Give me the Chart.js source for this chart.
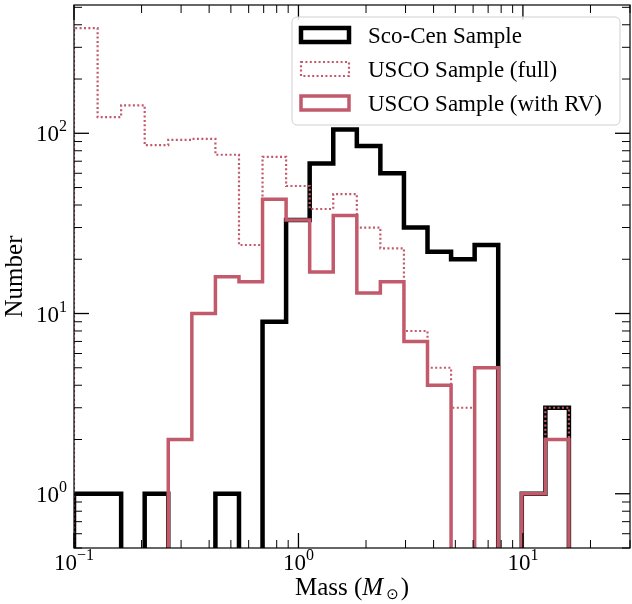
<!DOCTYPE html>
<html>
<head>
<meta charset="utf-8">
<script src="https://cdn.jsdelivr.net/npm/chart.js@4.4.1/dist/chart.umd.min.js"></script>
<style>
	html, body { margin: 0; padding: 0; background: #fff; }
</style>
</head>
<body>
<canvas id="massChart" width="632" height="604"></canvas>
<script>
// histogram bin edges (solar masses, log spaced) and counts per bin
const binEdges = [0.1, 0.1274, 0.1622, 0.2065, 0.2630, 0.3350, 0.4266, 0.5433, 0.6918, 0.8810,
	1.122, 1.429, 1.820, 2.317, 2.951, 3.758, 4.786, 6.095, 7.762, 9.886, 12.59, 16.03];
const scoCenCounts = [1, 1, 0, 1, 0, 0, 1, 0, 9, 33, 68, 105, 85, 60, 30, 22, 20, 24, 0, 1, 3];
const uscoFullCounts = [383, 123, 143, 86, 92, 93, 76, 24, 74, 51, 38, 46, 30, 23, 8, 5, 3, 5, 0, 1, 3];
const uscoRvCounts = [0, 0, 0, 0, 2, 10, 16, 15, 43, 33, 17, 35, 13, 15, 7, 4, 0, 5, 0, 1, 2];
const seriesLabels = ['Sco-Cen Sample', 'USCO Sample (full)', 'USCO Sample (with RV)'];
const xTickExps = [-1, 0, 1];
const yTickExps = [0, 1, 2];

const PINK = '#c25a6b';
const SERIF = '"Liberation Serif", "DejaVu Serif", serif';
const X_MIN = 0.1, X_MAX = 30, Y_MIN = 0.5, Y_MAX = 515;
// empty bins sit below the axis, like matplotlib's step outline
const FLOOR = 0.01;

// turn edges + counts into a step outline (histtype='step')
function stepOutline(edges, counts) {
	const pts = [{ x: edges[0], y: FLOOR }];
	counts.forEach((c, i) => {
		const v = c > 0 ? c : FLOOR;
		pts.push({ x: edges[i], y: v });
		pts.push({ x: edges[i + 1], y: v });
	});
	pts.push({ x: edges[edges.length - 1], y: FLOOR });
	return pts;
}

// "10" with a raised exponent
function drawPower(ctx, exp, x, y, align) {
	const base = '10';
	const sup = exp < 0 ? '\u2212' + Math.abs(exp) : String(exp);
	ctx.font = '23px ' + SERIF;
	const wb = ctx.measureText(base).width;
	ctx.font = '16px ' + SERIF;
	const ws = ctx.measureText(sup).width;
	let x0 = align === 'center' ? x - (wb + ws) / 2 : x - (wb + ws);
	ctx.textAlign = 'left';
	ctx.textBaseline = 'alphabetic';
	ctx.font = '23px ' + SERIF;
	ctx.fillText(base, x0, y);
	ctx.font = '16px ' + SERIF;
	ctx.fillText(sup, x0 + wb, y - 10);
}

const axesPlugin = {
	id: 'mplAxes',
	afterDraw(chart) {
		const ctx = chart.ctx;
		const area = chart.chartArea;
		const xs = chart.scales.x, ys = chart.scales.y;
		ctx.save();
		ctx.fillStyle = '#000';
		ctx.strokeStyle = '#000';

		// frame
		ctx.lineWidth = 1.2;
		ctx.strokeRect(area.left, area.top, area.right - area.left, area.bottom - area.top);

		// inward ticks on all four sides
		const tick = (x1, y1, x2, y2, w) => {
			ctx.lineWidth = w;
			ctx.beginPath();
			ctx.moveTo(x1, y1);
			ctx.lineTo(x2, y2);
			ctx.stroke();
		};
		for (let e = -1; e <= 1; e++) {
			for (let k = 1; k <= 9; k++) {
				const v = k * Math.pow(10, e);
				if (v < X_MIN || v > X_MAX) continue;
				const px = xs.getPixelForValue(v);
				const len = k === 1 ? 15 : 8;
				const w = k === 1 ? 1.3 : 1;
				tick(px, area.bottom, px, area.bottom - len, w);
				tick(px, area.top, px, area.top + len, w);
			}
		}
		for (let e = -1; e <= 2; e++) {
			for (let k = 1; k <= 9; k++) {
				const v = k * Math.pow(10, e);
				if (v < Y_MIN || v > Y_MAX) continue;
				const py = ys.getPixelForValue(v);
				const len = k === 1 ? 15 : 8;
				const w = k === 1 ? 1.3 : 1;
				tick(area.left, py, area.left + len, py, w);
				tick(area.right, py, area.right - len, py, w);
			}
		}

		// tick labels
		xTickExps.forEach(e => {
			drawPower(ctx, e, xs.getPixelForValue(Math.pow(10, e)), area.bottom + 22, 'center');
		});
		yTickExps.forEach(e => {
			drawPower(ctx, e, area.left - 7, ys.getPixelForValue(Math.pow(10, e)) + 8, 'right');
		});

		// y axis title
		ctx.save();
		ctx.translate(15, (area.top + area.bottom) / 2);
		ctx.rotate(-Math.PI / 2);
		ctx.font = '25px ' + SERIF;
		ctx.textAlign = 'center';
		ctx.textBaseline = 'middle';
		ctx.fillText('Number', 0, 0);
		ctx.restore();

		// x axis title: Mass (M_sun)
		const parts = [
			{ t: 'Mass (', f: '25px ' + SERIF, dy: 0 },
			{ t: 'M', f: 'italic 25px ' + SERIF, dy: 0 },
			{ t: '\u2299', f: '15px "DejaVu Sans", ' + SERIF, dy: 4, pad: 3 },
			{ t: ')', f: '25px ' + SERIF, dy: 0, pad: 2 },
		];
		let total = 0;
		parts.forEach(p => { ctx.font = p.f; p.w = ctx.measureText(p.t).width + (p.pad || 0); total += p.w; });
		let cx = (area.left + area.right) / 2 - total / 2;
		ctx.textAlign = 'left';
		ctx.textBaseline = 'alphabetic';
		parts.forEach(p => {
			ctx.font = p.f;
			ctx.fillText(p.t, cx + (p.pad || 0), 595 + p.dy);
			cx += p.w;
		});

		// legend box, upper right
		const lx = 292, ly = 17, lw = 328, lh = 108;
		ctx.beginPath();
		ctx.roundRect(lx, ly, lw, lh, 5);
		ctx.fillStyle = 'rgba(255,255,255,0.85)';
		ctx.fill();
		ctx.lineWidth = 1;
		ctx.strokeStyle = '#cfcfcf';
		ctx.stroke();
		const order = [0, 1, 2];
		order.forEach((di, row) => {
			const ds = chart.data.datasets[di];
			const cy = 35 + row * 34;
			ctx.strokeStyle = ds.borderColor;
			ctx.lineWidth = ds.borderWidth;
			ctx.setLineDash(ds.borderDash || []);
			ctx.lineJoin = 'miter';
			ctx.strokeRect(301, cy - 7, 48, 14);
			ctx.setLineDash([]);
			ctx.fillStyle = '#000';
			ctx.font = '23px ' + SERIF;
			ctx.textAlign = 'left';
			ctx.textBaseline = 'alphabetic';
			ctx.fillText(ds.label, 368, cy + 8);
		});
		ctx.restore();
	}
};

const stepStyle = {
	pointRadius: 0,
	pointHoverRadius: 0,
	tension: 0,
	fill: false,
	borderJoinStyle: 'miter',
	borderCapStyle: 'butt',
};

new Chart(document.getElementById('massChart'), {
	type: 'line',
	data: {
		datasets: [
			{ ...stepStyle, label: seriesLabels[0], data: stepOutline(binEdges, scoCenCounts),
				borderColor: '#000', borderWidth: 4.5, order: 3 },
			{ ...stepStyle, label: seriesLabels[1], data: stepOutline(binEdges, uscoFullCounts),
				borderColor: PINK, borderWidth: 2.2, borderDash: [2, 2.4], order: 2 },
			{ ...stepStyle, label: seriesLabels[2], data: stepOutline(binEdges, uscoRvCounts),
				borderColor: PINK, borderWidth: 3.5, order: 1 },
		]
	},
	options: {
		responsive: false,
		animation: false,
		layout: { padding: { left: 74, right: 2, top: 5, bottom: 56 } },
		plugins: {
			legend: { display: false },
			tooltip: { enabled: false }
		},
		scales: {
			x: { type: 'logarithmic', min: X_MIN, max: X_MAX, display: false },
			y: { type: 'logarithmic', min: Y_MIN, max: Y_MAX, display: false }
		}
	},
	plugins: [axesPlugin]
});
</script>
</body>
</html>
